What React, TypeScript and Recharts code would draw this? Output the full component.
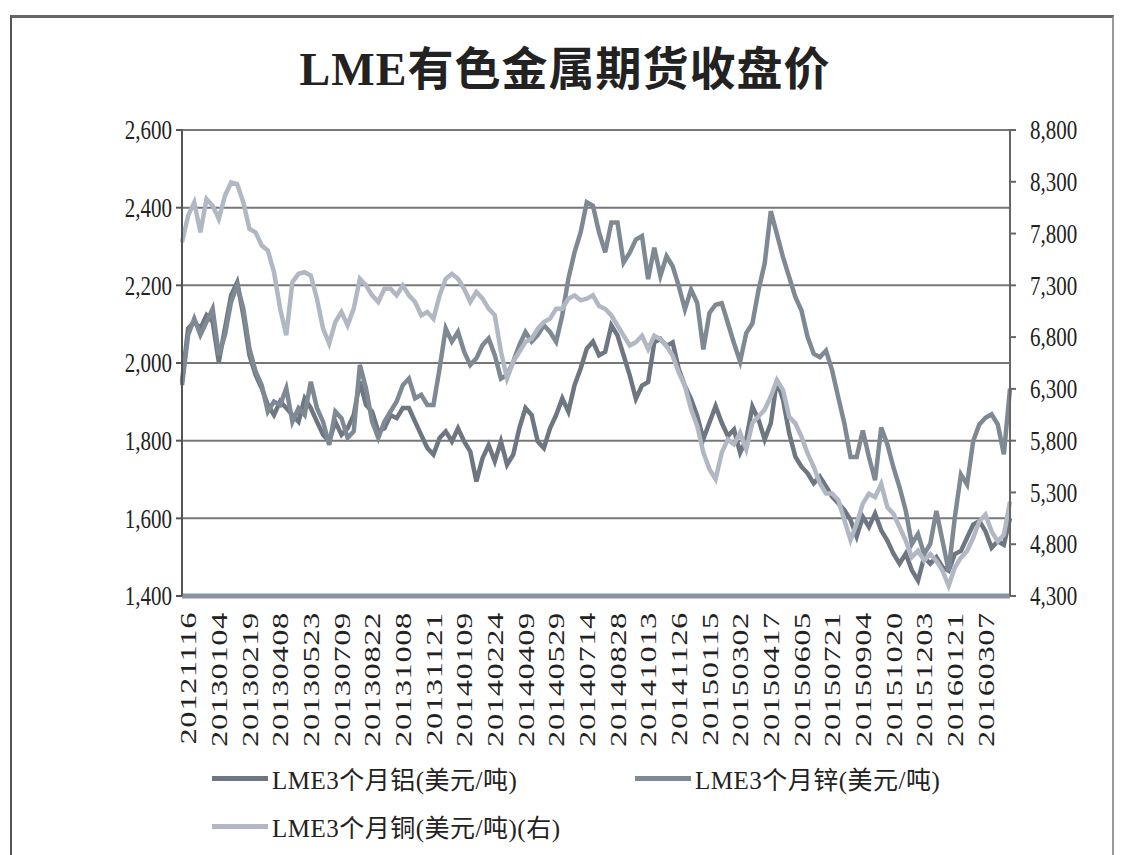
import React from 'react';
import { LineChart, Line, XAxis, YAxis, CartesianGrid } from 'recharts';

const dateLabels = [
  '20121116', '20130104', '20130219', '20130408', '20130523', '20130709', '20130822',
  '20131008', '20131121', '20140109', '20140224', '20140409', '20140529', '20140714',
  '20140828', '20141013', '20141126', '20150115', '20150302', '20150417', '20150605',
  '20150721', '20150904', '20151020', '20151203', '20160121', '20160307',
];

const POINTS_PER_LABEL = 5;

const aluminum = [
  1952, 2089, 2106, 2089, 2123, 2106, 2003, 2089, 2174, 2208, 2123, 2020, 1969, 1935, 1892, 1866,
  1901, 1884, 1866, 1849, 1909, 1884, 1849, 1815, 1798, 1849, 1815, 1832, 1866, 1952, 1892, 1875,
  1824, 1832, 1866, 1858, 1884, 1884, 1849, 1815, 1781, 1764, 1807, 1824, 1798, 1832, 1798, 1772,
  1695, 1755, 1789, 1747, 1798, 1738, 1764, 1832, 1884, 1866, 1798, 1781, 1832, 1866, 1909, 1875,
  1943, 1986, 2037, 2055,
  2020, 2029, 2097, 2071, 2020, 1968, 1908, 1942, 1951, 2053, 2062, 2044, 2053, 1984, 1941, 1907,
  1864, 1804, 1847, 1889, 1846, 1812, 1829, 1769, 1803, 1888, 1854, 1803, 1845, 1956, 1905, 1819,
  1759, 1733, 1716, 1690, 1707, 1682, 1656, 1639, 1621, 1596, 1553, 1604, 1578, 1612, 1569, 1543,
  1509, 1483, 1509, 1466, 1440, 1500, 1483, 1500, 1474, 1465, 1508, 1516, 1550, 1584, 1593, 1567,
  1524, 1541, 1532, 1600,
];

const zinc = [
  1943, 2072, 2114, 2072, 2106, 2140, 2020, 2072, 2157, 2200, 2140, 2037, 1978, 1943, 1875, 1901,
  1892, 1935, 1849, 1884, 1866, 1952, 1884, 1849, 1789, 1875, 1858, 1807, 1824, 1995, 1935, 1849,
  1807, 1849, 1875, 1901, 1943, 1960, 1909, 1918, 1892, 1892, 1986, 2089, 2055, 2080, 2029, 1995,
  2012, 2046, 2063, 2020, 1960, 1969, 2003, 2046, 2080, 2055, 2072, 2097, 2080, 2055, 2123, 2217,
  2285, 2337, 2414, 2405,
  2336, 2285, 2362, 2362, 2259, 2284, 2318, 2327, 2216, 2297, 2224, 2275, 2249, 2198, 2138, 2189,
  2155, 2035, 2129, 2150, 2154, 2103, 2051, 2004, 2077, 2102, 2188, 2256, 2391, 2332, 2272, 2221,
  2170, 2135, 2067, 2024, 2015, 2032, 1981, 1912, 1844, 1758, 1758, 1826, 1758, 1698, 1834, 1791,
  1731, 1680, 1620, 1534, 1560, 1508, 1534, 1619, 1542, 1465, 1602, 1713, 1687, 1799, 1842, 1859,
  1868, 1842, 1765, 1934,
];

const copper = [
  7716, 7973, 8101, 7812, 8133, 8069, 7941, 8165, 8293, 8277, 8101, 7844, 7812, 7684, 7636, 7427,
  7075, 6818, 7331, 7411, 7427, 7395, 7171, 6882, 6738, 6946, 7043, 6914, 7075, 7363, 7299, 7203,
  7139, 7267, 7267, 7203, 7299, 7203, 7139, 7011, 7043, 6978, 7203, 7363, 7411, 7363, 7267, 7139,
  7235, 7171, 7075, 7011, 6658, 6401, 6562, 6658, 6754, 6786, 6882, 6946, 6978, 7075, 7075, 7171,
  7203, 7155, 7171, 7203,
  7100, 7073, 7009, 6912, 6815, 6719, 6750, 6814, 6685, 6813, 6780, 6715, 6619, 6458, 6329, 6104,
  5943, 5686, 5525, 5429, 5684, 5812, 5764, 5876, 5715, 5970, 6034, 6098, 6226, 6385, 6289, 6032,
  5967, 5838, 5677, 5548, 5388, 5291, 5291, 5226, 5033, 4840, 5000, 5192, 5287, 5255, 5383, 5158,
  5093, 4964, 4835, 4675, 4738, 4642, 4705, 4640, 4544, 4399, 4575, 4670, 4734, 4862, 5022, 5085,
  4924, 4828, 4891, 5211,
];

const leftTicks = [1400, 1600, 1800, 2000, 2200, 2400, 2600];
const rightTicks = [4300, 4800, 5300, 5800, 6300, 6800, 7300, 7800, 8300, 8800];

const seriesNames = ['LME3个月铝(美元/吨)', 'LME3个月锌(美元/吨)', 'LME3个月铜(美元/吨)(右)'];
const titleText = 'LME有色金属期货收盘价';

const AL_COLOR = '#6d7681';
const ZN_COLOR = '#7f8994';
const CU_COLOR = '#b1b8c3';

const data = aluminum.map((v, i) => ({ i, al: v, zn: zinc[i], cu: copper[i] }));
const xTicks = dateLabels.map((_, k) => k * POINTS_PER_LABEL);

const SERIF = "'Liberation Serif', 'Times New Roman', 'Noto Sans CJK SC', serif";
const fmt = (v: number) => v.toLocaleString('en-US');

const LeftTick = (props: any) => {
  const { x, y, payload } = props;
  return (
    <text
      transform={`translate(${x},${y}) scale(1,1.25)`}
      x={0}
      y={0}
      dy="0.35em"
      textAnchor="end"
      fontFamily={SERIF}
      fontSize={21}
      fill="#222"
    >
      {fmt(payload.value)}
    </text>
  );
};

const RightTick = (props: any) => {
  const { x, y, payload } = props;
  return (
    <text
      transform={`translate(${x},${y}) scale(1,1.25)`}
      x={0}
      y={0}
      dy="0.35em"
      textAnchor="start"
      fontFamily={SERIF}
      fontSize={21}
      fill="#222"
    >
      {fmt(payload.value)}
    </text>
  );
};

const DateTick = (props: any) => {
  const { x, y, payload } = props;
  const idx = Math.round(payload.value / POINTS_PER_LABEL);
  return (
    <text
      transform={`translate(${x + 6},${y}) scale(1,1.35) rotate(-90)`}
      x={0}
      y={0}
      dy="0.35em"
      textAnchor="end"
      fontFamily={SERIF}
      fontSize={24}
      letterSpacing={0.5}
      fill="#222"
    >
      {dateLabels[idx]}
    </text>
  );
};

const LegendItem = ({ left, top, color, label }: { left: number; top: number; color: string; label: string }) => (
  <div style={{ position: 'absolute', left, top, display: 'flex', alignItems: 'center', height: 30 }}>
    <div style={{ width: 56, height: 5, background: color, marginRight: 4 }} />
    <span style={{ fontFamily: SERIF, fontSize: 25, color: '#222', letterSpacing: 0.5, whiteSpace: 'nowrap' }}>{label}</span>
  </div>
);

export default function App() {
  return (
    <div style={{ position: 'absolute', left: 0, top: 0, width: 1121, height: 855, background: '#fff', overflow: 'hidden' }}>
      <div
        style={{
          position: 'absolute',
          left: 10,
          top: 15,
          width: 1104,
          height: 860,
          borderTop: '3px solid #666',
          borderLeft: '2px solid #555',
          borderRight: '2px solid #999',
          boxSizing: 'border-box',
        }}
      />
      <div
        style={{
          position: 'absolute',
          left: 0,
          top: 38,
          width: 1130,
          textAlign: 'center',
          fontFamily: SERIF,
          fontSize: 46,
          fontWeight: 700,
          color: '#222',
          lineHeight: '64px',
          letterSpacing: 1,
        }}
      >
        {titleText}
      </div>
      <div style={{ position: 'absolute', left: 0, top: 0 }}>
        <LineChart width={1121} height={780} data={data} margin={{ top: 130, right: 21, bottom: 24, left: 122 }}>
          <CartesianGrid yAxisId="left" vertical={false} stroke="#777" strokeWidth={2} />
          <XAxis
            dataKey="i"
            type="number"
            domain={[0, data.length - 1]}
            ticks={xTicks}
            interval={0}
            height={160}
            tick={<DateTick />}
            tickLine={false}
            tickSize={6}
            tickMargin={10}
            axisLine={{ stroke: '#8a93a3', strokeWidth: 5 }}
            allowDecimals={false}
          />
          <YAxis
            yAxisId="left"
            orientation="left"
            width={60}
            domain={[1400, 2600]}
            ticks={leftTicks}
            interval={0}
            tick={<LeftTick />}
            tickSize={6}
            tickMargin={4}
            tickLine={{ stroke: '#555', strokeWidth: 2 }}
            axisLine={{ stroke: '#555', strokeWidth: 2 }}
          />
          <YAxis
            yAxisId="right"
            orientation="right"
            width={90}
            domain={[4300, 8800]}
            ticks={rightTicks}
            interval={0}
            tick={<RightTick />}
            tickSize={6}
            tickMargin={14}
            tickLine={{ stroke: '#666', strokeWidth: 2 }}
            axisLine={{ stroke: '#666', strokeWidth: 2 }}
          />
          <Line yAxisId="left" dataKey="al" stroke={AL_COLOR} strokeWidth={4.5} dot={false} isAnimationActive={false} type="linear" />
          <Line yAxisId="left" dataKey="zn" stroke={ZN_COLOR} strokeWidth={4.5} dot={false} isAnimationActive={false} type="linear" />
          <Line yAxisId="right" dataKey="cu" stroke={CU_COLOR} strokeWidth={4.5} dot={false} isAnimationActive={false} type="linear" />
        </LineChart>
      </div>
      <LegendItem left={212} top={763} color={AL_COLOR} label={seriesNames[0]} />
      <LegendItem left={635} top={763} color={ZN_COLOR} label={seriesNames[1]} />
      <LegendItem left={212} top={811} color={CU_COLOR} label={seriesNames[2]} />
    </div>
  );
}
